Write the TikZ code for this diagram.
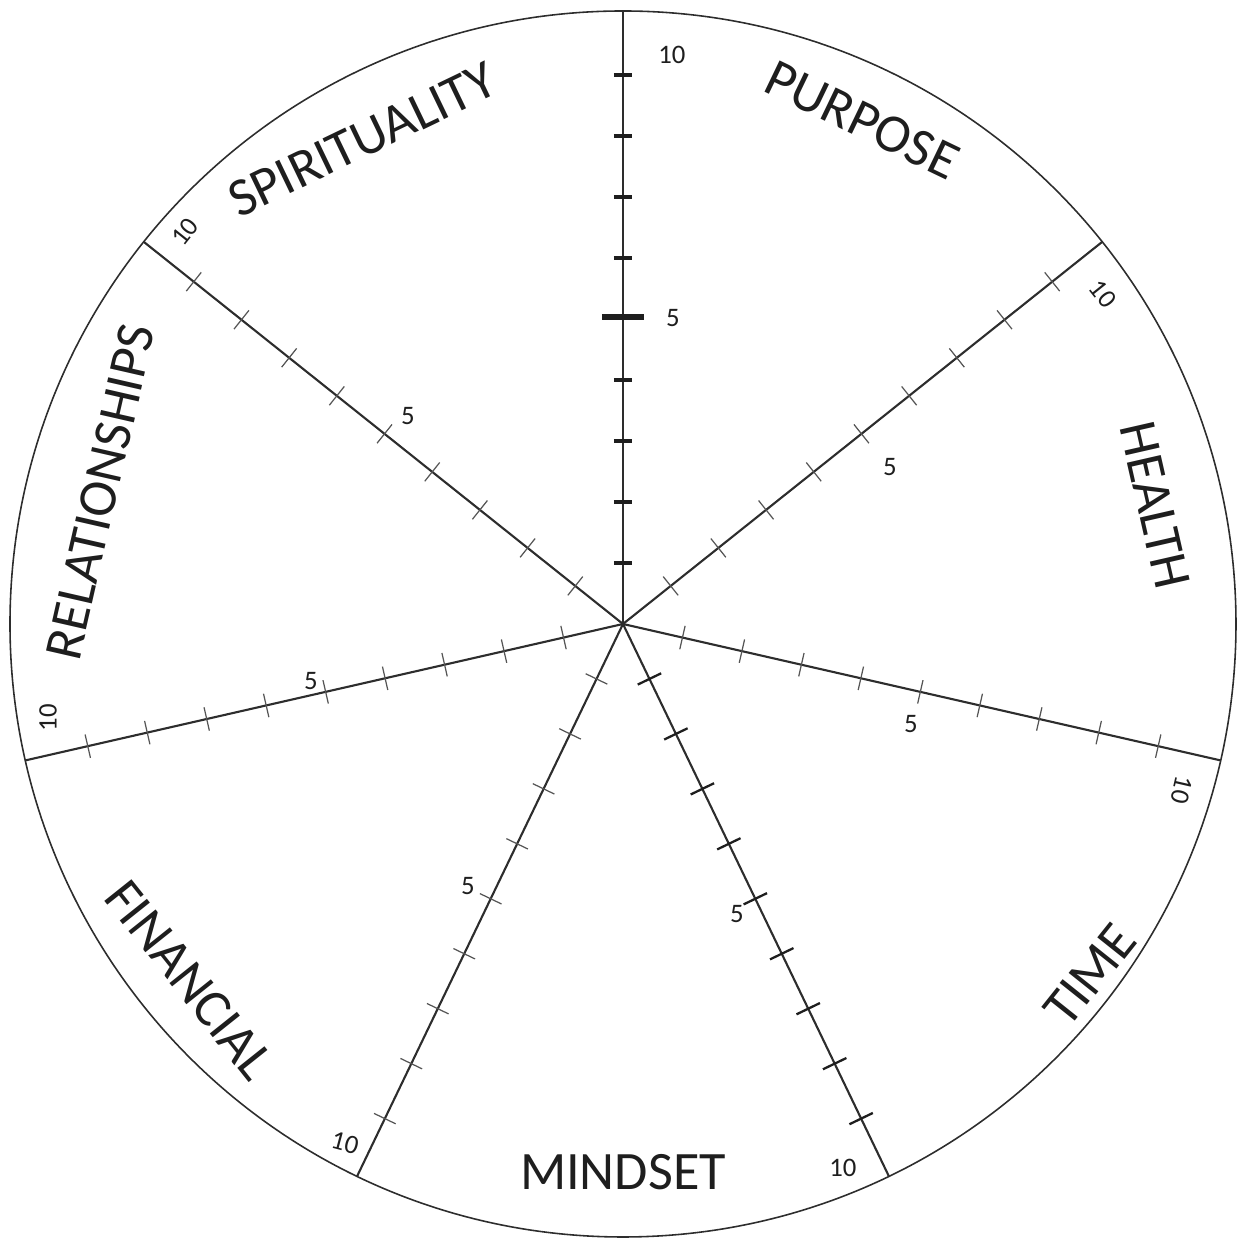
\documentclass[tikz,border=0pt]{standalone}
\usepackage{fontspec}
\setmainfont{Carlito}
\definecolor{WheelGray}{RGB}{45,45,45}
\definecolor{TickGray}{RGB}{85,85,85}
\definecolor{InkBlack}{RGB}{30,30,30}
\tikzset{
  rim/.style={line width=0.45pt,WheelGray},
  spoke/.style={line width=0.6pt,WheelGray},
  thintick/.style={line width=0.35pt,TickGray},
  boldtick/.style={line width=0.65pt,InkBlack},
  scaletick/.style={line width=1.3pt,InkBlack},
  area/.style={font=\fontsize{15.4}{18}\selectfont,inner sep=0pt,text=InkBlack},
  score/.style={font=\fontsize{7.6}{9}\selectfont,inner sep=0pt,text=InkBlack}
}

\begin{document}
\begin{tikzpicture}
      \useasboundingbox (-6.23,-6.15) rectangle (6.20,6.24);
      \coordinate (hub) at (0,0);
      \draw[rim] (hub) circle (6.13);
      \foreach \a/\n in {90/top,38.57/rightup,-12.86/rightdown,-64.29/downright,-115.71/downleft,-167.14/leftdown,141.43/leftup}{
        \coordinate (\n) at (\a:6.13);
        \draw[spoke] (hub) -- (\n);
      }
      \foreach \a in {38.57,-12.86,-115.71,-167.14,141.43}
        \foreach \k in {1,...,9}
          \draw[thintick,rotate=\a] (\k*0.61,-0.12) -- (\k*0.61,0.12);
      \foreach \k in {1,...,9}
        \draw[boldtick,rotate=-64.29] (\k*0.61,-0.13) -- (\k*0.61,0.13);
      \foreach \k in {1,2,3,4,6,7,8,9}
        \draw[scaletick] (-0.09,\k*0.61) -- (0.09,\k*0.61);
      \draw[scaletick,line width=1.6pt] (-0.21,3.07) -- (0.21,3.07);
      \node[area,rotate=-25.71] (purpose) at (64.6:5.58) {PURPOSE};
      \node[area,rotate=-77.14] (health) at (12.6:5.45) {HEALTH};
      \node[area,rotate=51.43] (time) at (-36.9:5.84) {TIME};
      \node[area] (mindset) at (-90:5.48) {MINDSET};
      \node[area,rotate=-51.43] (financial) at (-140.6:5.61) {FINANCIAL};
      \node[area,rotate=77.14] (relationships) at (165.8:5.39) {RELATIONSHIPS};
      \node[area,rotate=25.71] (spirituality) at (118.3:5.50) {SPIRITUALITY};
      \node[score] (fivetop) at (0.50,3.06) {5};
      \node[score] (fiverightup) at (2.67,1.57) {5};
      \node[score] (fiverightdown) at (2.88,-1.00) {5};
      \node[score] (fivedownright) at (1.14,-2.90) {5};
      \node[score] (fivedownleft) at (-1.55,-2.62) {5};
      \node[score] (fiveleftdown) at (-3.12,-0.57) {5};
      \node[score] (fiveleftup) at (-2.15,2.08) {5};
      \node[score] (tentop) at (0.49,5.69) {10};
      \node[score,rotate=-51.43] (tenrightup) at (4.80,3.30) {10};
      \node[score,rotate=-102.86] (tenrightdown) at (5.59,-1.66) {10};
      \node[score] (tendownright) at (2.20,-5.44) {10};
      \node[score,rotate=-15] (tendownleft) at (-2.78,-5.19) {10};
      \node[score,rotate=90] (tenleftdown) at (-5.75,-0.94) {10};
      \node[score,rotate=51.43] (tenleftup) at (-4.38,3.92) {10};
    \end{tikzpicture}
\end{document}
